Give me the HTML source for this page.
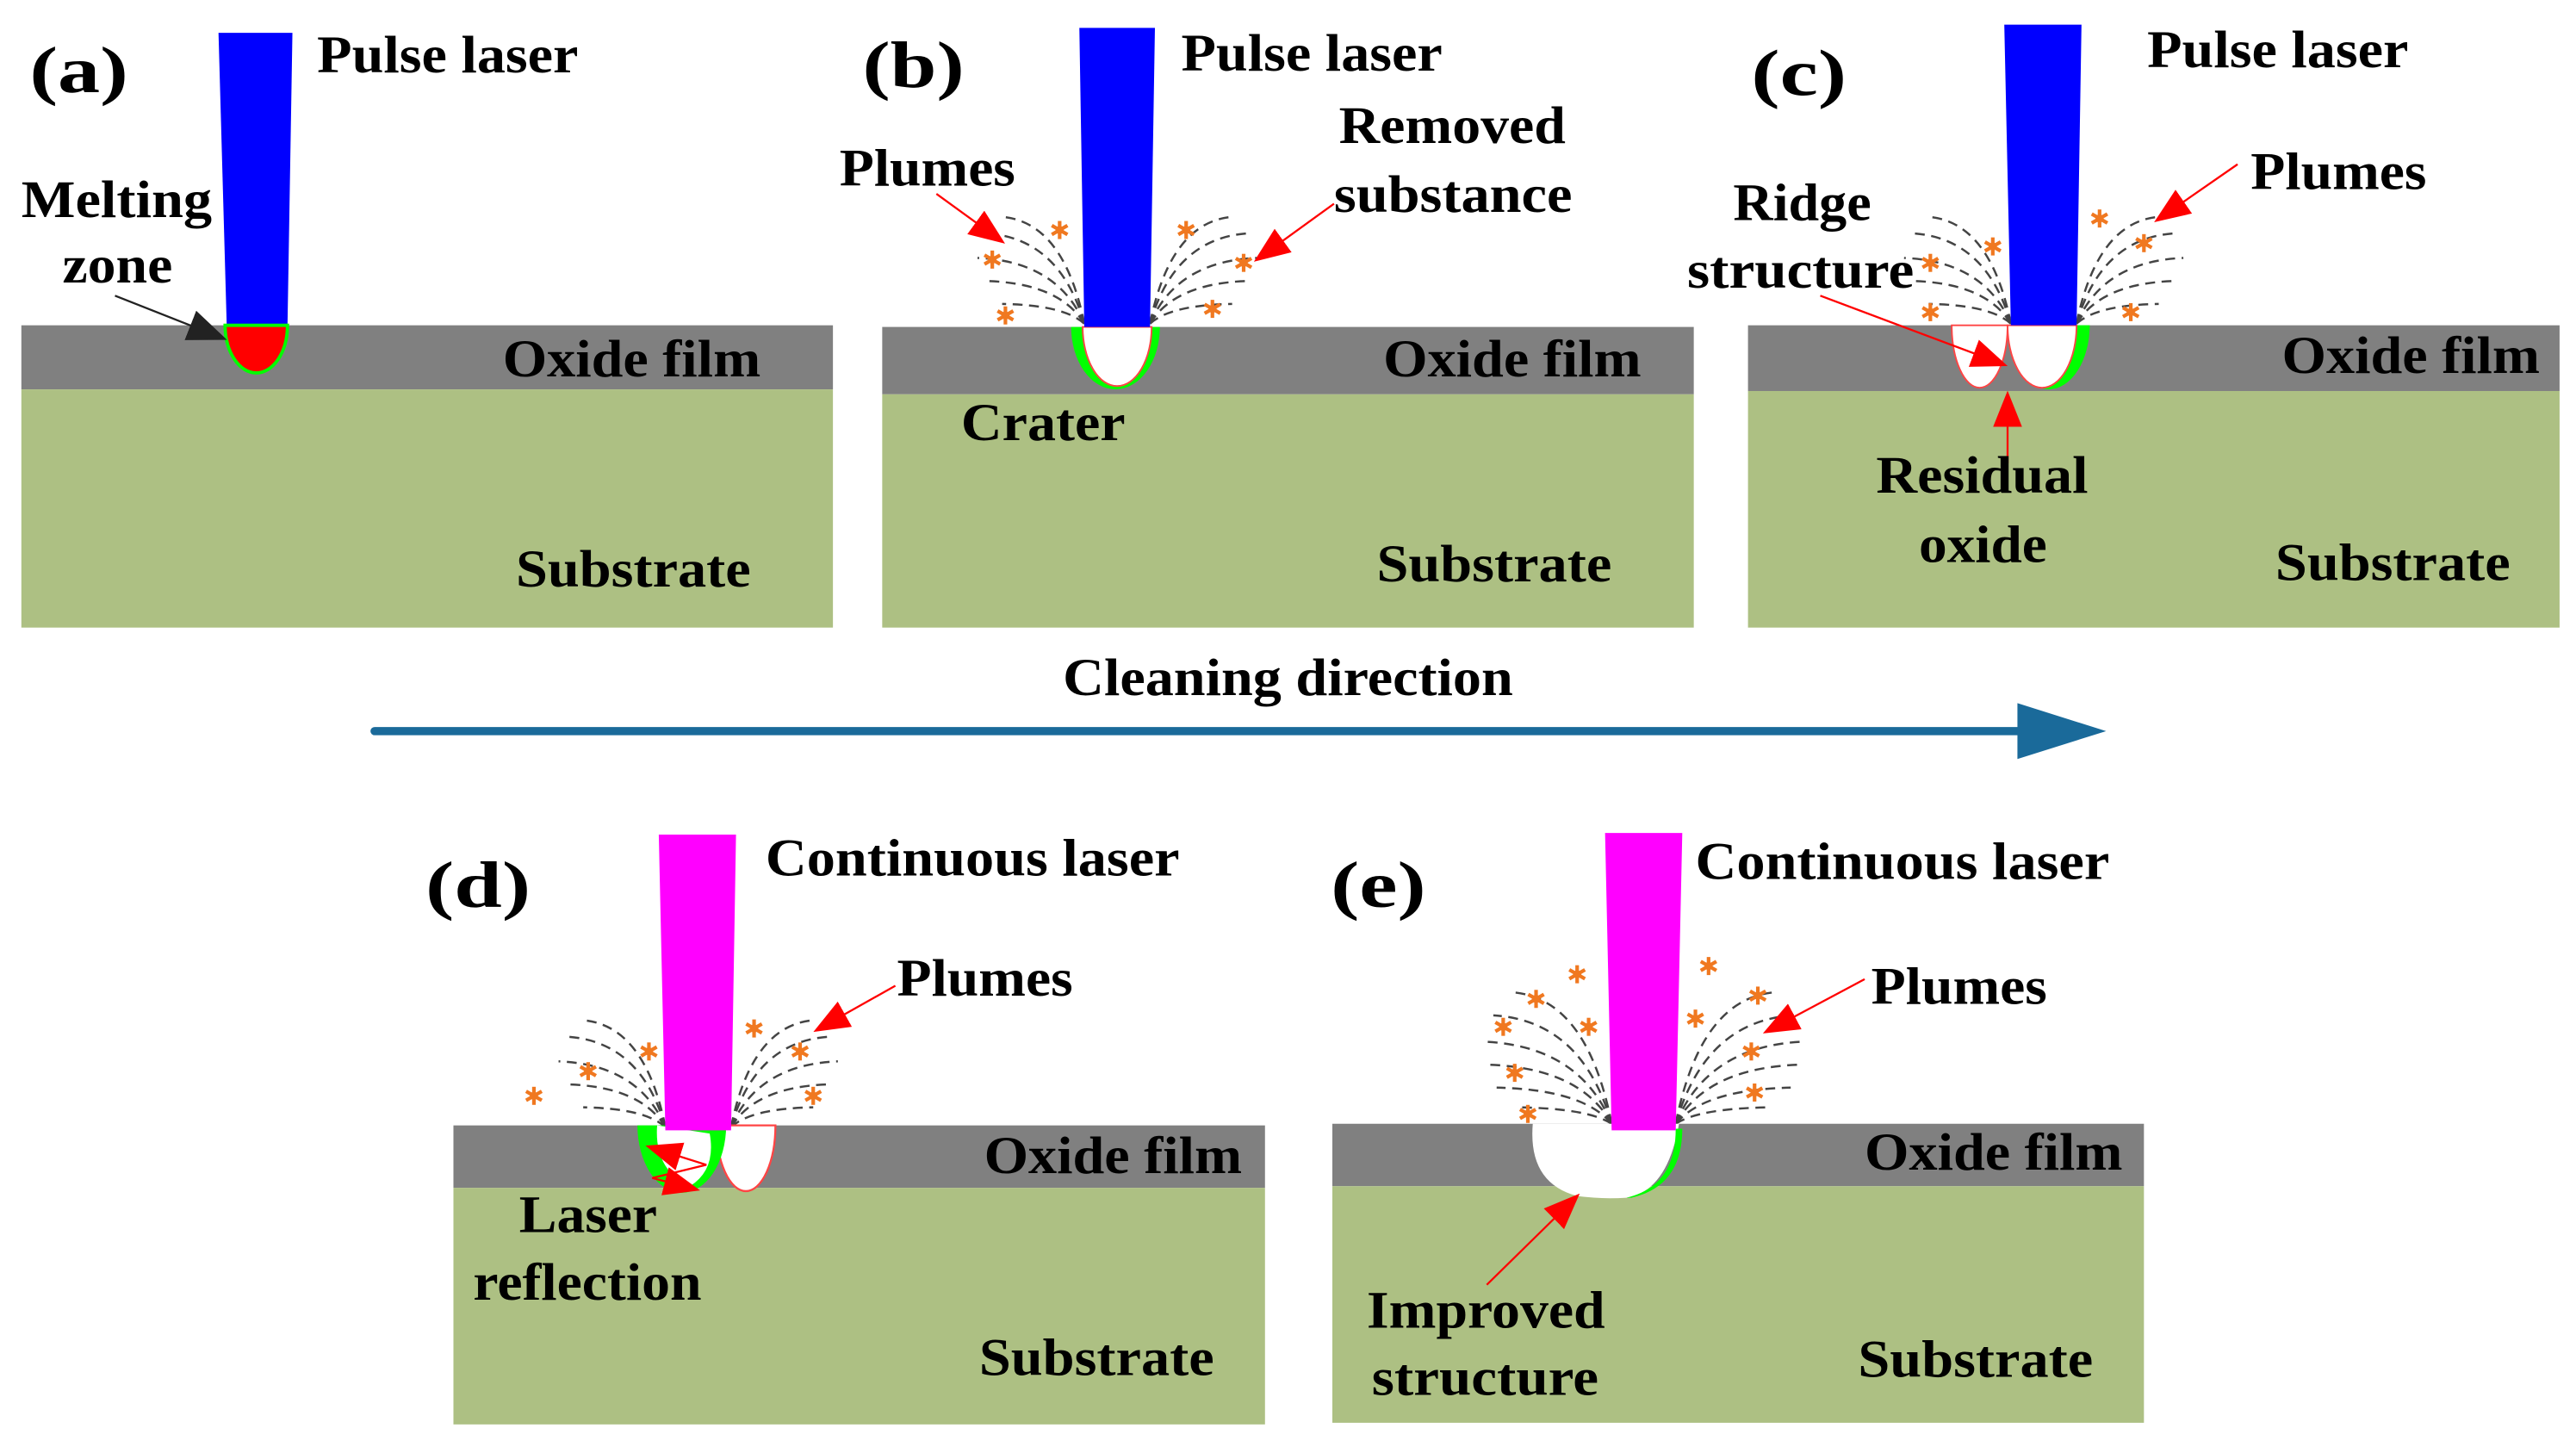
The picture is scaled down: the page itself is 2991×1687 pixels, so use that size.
<!DOCTYPE html>
<html><head><meta charset="utf-8"><style>
html,body{margin:0;padding:0;background:#fff;}
svg{display:block;}
text{font-family:"Liberation Serif","DejaVu Serif",serif;font-weight:bold;fill:#000;font-size:32px;}
</style></head><body>
<svg id="s" width="2991" height="1687" viewBox="0 0 1568 884.4" preserveAspectRatio="none" xmlns="http://www.w3.org/2000/svg" font-family="Liberation Serif, DejaVu Serif, serif">
<defs>
<marker id="arr" viewBox="0 0 10 10" refX="9" refY="5" markerWidth="22" markerHeight="22" markerUnits="userSpaceOnUse" orient="auto"><path d="M0,1L10,5L0,9z" fill="#f00"/></marker>
<marker id="arb" viewBox="0 0 10 10" refX="9" refY="5" markerWidth="24" markerHeight="24" markerUnits="userSpaceOnUse" orient="auto"><path d="M0,1L10,5L0,9z" fill="#222"/></marker>
</defs>
<rect x="13" y="198" width="494" height="39" fill="#808080"/><rect x="13" y="237" width="494" height="145" fill="#adc083"/>
<rect x="537" y="199" width="494" height="41" fill="#808080"/><rect x="537" y="240" width="494" height="142" fill="#adc083"/>
<rect x="1064" y="198" width="494" height="40" fill="#808080"/><rect x="1064" y="238" width="494" height="144" fill="#adc083"/>
<rect x="276" y="685" width="494" height="38" fill="#808080"/><rect x="276" y="723" width="494" height="144" fill="#adc083"/>
<rect x="811" y="684" width="494" height="38" fill="#808080"/><rect x="811" y="722" width="494" height="144" fill="#adc083"/>
<g id="plumes"></g>
<polygon points="133,20 178,20 175,198 138,198" fill="#0000ff"/>
<path d="M137,198 A19,29 0 0 0 175,198 Z" fill="#f00" stroke="#0f0" stroke-width="2"/>
<path d="M652,199 A27,38 0 0 0 706,199 Z" fill="#0f0"/>
<path d="M659,199 A21,36 0 0 0 701,199 Z" fill="#fff" stroke="#f44" stroke-width="1"/>
<polygon points="657,17 703,17 700,199 660,199" fill="#0000ff"/>
<path d="M1188,198 A17,38 0 0 0 1222,198 Z" fill="#fff" stroke="#f44" stroke-width="1"/>
<path d="M1222,198 A25,39 0 0 0 1272,198 Z" fill="#0f0"/>
<path d="M1222,198 A21,38 0 0 0 1264,198 Z" fill="#fff" stroke="#f44" stroke-width="1"/>
<polygon points="1220,15 1267,15 1264,198 1224,198" fill="#0000ff"/>
<path d="M436,685 A18,40 0 0 0 472,685 Z" fill="#fff" stroke="#f44" stroke-width="1.2"/>
<path d="M388,685 A27,41 0 0 0 442,685 Z" fill="#0f0"/>
<path d="M400,685 Q398,712 420,722 Q436,712 432,690 Z" fill="#fff"/>
<polygon points="401,508 448,508 445,688 405,688" fill="#ff00ff"/>
<line x1="430" y1="709" x2="395" y2="698" stroke="#f00" stroke-width="1.2" marker-end="url(#arr)"/>
<line x1="430" y1="709" x2="397" y2="717" stroke="#f00" stroke-width="1.2"/>
<line x1="397" y1="717" x2="424" y2="724" stroke="#f00" stroke-width="1.2" marker-end="url(#arr)"/>
<path d="M933,684 Q930,720 960,728 Q975,730 990,729 Q1015,725 1022,684 Z" fill="#fff"/>
<path d="M1020,687 Q1020,722 990,729 L993,729 Q1024,722 1024,687 Z" fill="#0f0"/>
<polygon points="977,507 1024,507 1020,688 981,688" fill="#ff00ff"/>
<line x1="70" y1="180" x2="136" y2="206" stroke="#222" stroke-width="1.2" marker-end="url(#arb)"/>
<line x1="570" y1="118" x2="610" y2="147" stroke="#f00" stroke-width="1.2" marker-end="url(#arr)"/>
<line x1="812" y1="124" x2="765" y2="158" stroke="#f00" stroke-width="1.2" marker-end="url(#arr)"/>
<line x1="1362" y1="100" x2="1313" y2="134" stroke="#f00" stroke-width="1.2" marker-end="url(#arr)"/>
<line x1="1108" y1="180" x2="1220" y2="222" stroke="#f00" stroke-width="1.2" marker-end="url(#arr)"/>
<line x1="1222" y1="282" x2="1222" y2="240" stroke="#f00" stroke-width="1.2" marker-end="url(#arr)"/>
<line x1="545" y1="600" x2="497" y2="627" stroke="#f00" stroke-width="1.2" marker-end="url(#arr)"/>
<line x1="1135" y1="596" x2="1075" y2="628" stroke="#f00" stroke-width="1.2" marker-end="url(#arr)"/>
<line x1="905" y1="782" x2="960" y2="728" stroke="#f00" stroke-width="1.2" marker-end="url(#arr)"/>
<line x1="228" y1="445" x2="1240" y2="445" stroke="#1a6a9a" stroke-width="5" stroke-linecap="round"/>
<polygon points="1228,428 1282,445 1228,462" fill="#1a6a9a"/>
<text x="647" y="423" textLength="274" lengthAdjust="spacingAndGlyphs">Cleaning direction</text>
<text x="18" y="56" style="font-size:40px" textLength="60" lengthAdjust="spacingAndGlyphs">(a)</text>
<text x="193" y="44" textLength="159" lengthAdjust="spacingAndGlyphs">Pulse laser</text>
<text x="13" y="132" textLength="116" lengthAdjust="spacingAndGlyphs">Melting</text><text x="38" y="172" textLength="67" lengthAdjust="spacingAndGlyphs">zone</text>
<text x="306" y="229" textLength="157" lengthAdjust="spacingAndGlyphs">Oxide film</text><text x="314" y="357" textLength="143" lengthAdjust="spacingAndGlyphs">Substrate</text>
<text x="525" y="53" style="font-size:40px" textLength="62" lengthAdjust="spacingAndGlyphs">(b)</text>
<text x="719" y="43" textLength="159" lengthAdjust="spacingAndGlyphs">Pulse laser</text>
<text x="815" y="87" textLength="138" lengthAdjust="spacingAndGlyphs">Removed</text><text x="812" y="129" textLength="145" lengthAdjust="spacingAndGlyphs">substance</text>
<text x="511" y="113" textLength="107" lengthAdjust="spacingAndGlyphs">Plumes</text>
<text x="842" y="229" textLength="157" lengthAdjust="spacingAndGlyphs">Oxide film</text><text x="585" y="268" textLength="100" lengthAdjust="spacingAndGlyphs">Crater</text><text x="838" y="354" textLength="143" lengthAdjust="spacingAndGlyphs">Substrate</text>
<text x="1066" y="58" style="font-size:40px" textLength="58" lengthAdjust="spacingAndGlyphs">(c)</text>
<text x="1307" y="41" textLength="159" lengthAdjust="spacingAndGlyphs">Pulse laser</text><text x="1370" y="115" textLength="107" lengthAdjust="spacingAndGlyphs">Plumes</text>
<text x="1055" y="134" textLength="84" lengthAdjust="spacingAndGlyphs">Ridge</text><text x="1027" y="175" textLength="138" lengthAdjust="spacingAndGlyphs">structure</text>
<text x="1389" y="227" textLength="157" lengthAdjust="spacingAndGlyphs">Oxide film</text>
<text x="1142" y="300" textLength="129" lengthAdjust="spacingAndGlyphs">Residual</text><text x="1168" y="342" textLength="78" lengthAdjust="spacingAndGlyphs">oxide</text>
<text x="1385" y="353" textLength="143" lengthAdjust="spacingAndGlyphs">Substrate</text>
<text x="259" y="552" style="font-size:40px" textLength="64" lengthAdjust="spacingAndGlyphs">(d)</text>
<text x="466" y="533" textLength="252" lengthAdjust="spacingAndGlyphs">Continuous laser</text><text x="546" y="606" textLength="107" lengthAdjust="spacingAndGlyphs">Plumes</text>
<text x="599" y="714" textLength="157" lengthAdjust="spacingAndGlyphs">Oxide film</text>
<text x="316" y="750" textLength="84" lengthAdjust="spacingAndGlyphs">Laser</text><text x="288" y="791" textLength="139" lengthAdjust="spacingAndGlyphs">reflection</text>
<text x="596" y="837" textLength="143" lengthAdjust="spacingAndGlyphs">Substrate</text>
<text x="810" y="552" style="font-size:40px" textLength="58" lengthAdjust="spacingAndGlyphs">(e)</text>
<text x="1032" y="535" textLength="252" lengthAdjust="spacingAndGlyphs">Continuous laser</text><text x="1139" y="611" textLength="107" lengthAdjust="spacingAndGlyphs">Plumes</text>
<text x="1135" y="712" textLength="157" lengthAdjust="spacingAndGlyphs">Oxide film</text>
<text x="832" y="808" textLength="145" lengthAdjust="spacingAndGlyphs">Improved</text><text x="835" y="849" textLength="138" lengthAdjust="spacingAndGlyphs">structure</text>
<text x="1131" y="838" textLength="143" lengthAdjust="spacingAndGlyphs">Substrate</text>
</svg>
<script>
var g=document.getElementById('plumes'),NS='http://www.w3.org/2000/svg';
function plume(ox,oy,side,ends){ends.forEach(function(e){var dx=e[0]*side,dy=e[1];
var p=document.createElementNS(NS,'path');
p.setAttribute('d','M'+ox+','+oy+' Q'+(ox+dx*0.25)+','+(oy+dy*0.95)+' '+(ox+dx)+','+(oy+dy));
p.setAttribute('fill','none');p.setAttribute('stroke','#444');p.setAttribute('stroke-width','1.3');p.setAttribute('stroke-dasharray','6,4');g.appendChild(p);});}
function star(x,y){for(var i=0;i<3;i++){var l=document.createElementNS(NS,'line');var a=i*Math.PI/3+Math.PI/2;
l.setAttribute('x1',x+5.5*Math.cos(a));l.setAttribute('y1',y+5.5*Math.sin(a));l.setAttribute('x2',x-5.5*Math.cos(a));l.setAttribute('y2',y-5.5*Math.sin(a));
l.setAttribute('stroke','#f07820');l.setAttribute('stroke-width','2.2');g.appendChild(l);}
var c=document.createElementNS(NS,'circle');c.setAttribute('cx',x);c.setAttribute('cy',y);c.setAttribute('r',2.5);c.setAttribute('fill','#f07820');g.appendChild(c);}
var E=[[-50,-65],[-60,-55],[-65,-40],[-60,-26],[-50,-12]];
var E2=[[-60,-80],[-72,-66],[-78,-50],[-76,-36],[-70,-22],[-58,-10]];
plume(660,197,1,E);plume(700,197,-1,E);
plume(1224,197,1,E);plume(1264,197,-1,E);
plume(405,686,1,E);plume(445,686,-1,E);
plume(981,684,1,E2);plume(1020,684,-1,E2);
[[645,140],[604,158],[612,192],[722,140],[757,160],[738,188],
[1213,150],[1175,160],[1175,190],[1278,133],[1305,148],[1297,190],
[325,667],[358,652],[395,640],[459,626],[487,640],[495,667],
[915,625],[935,608],[960,593],[967,625],[922,653],[930,678],[1040,588],[1070,606],[1032,620],[1066,640],[1068,665]].forEach(function(s){star(s[0],s[1]);});
</script>
</body></html>
